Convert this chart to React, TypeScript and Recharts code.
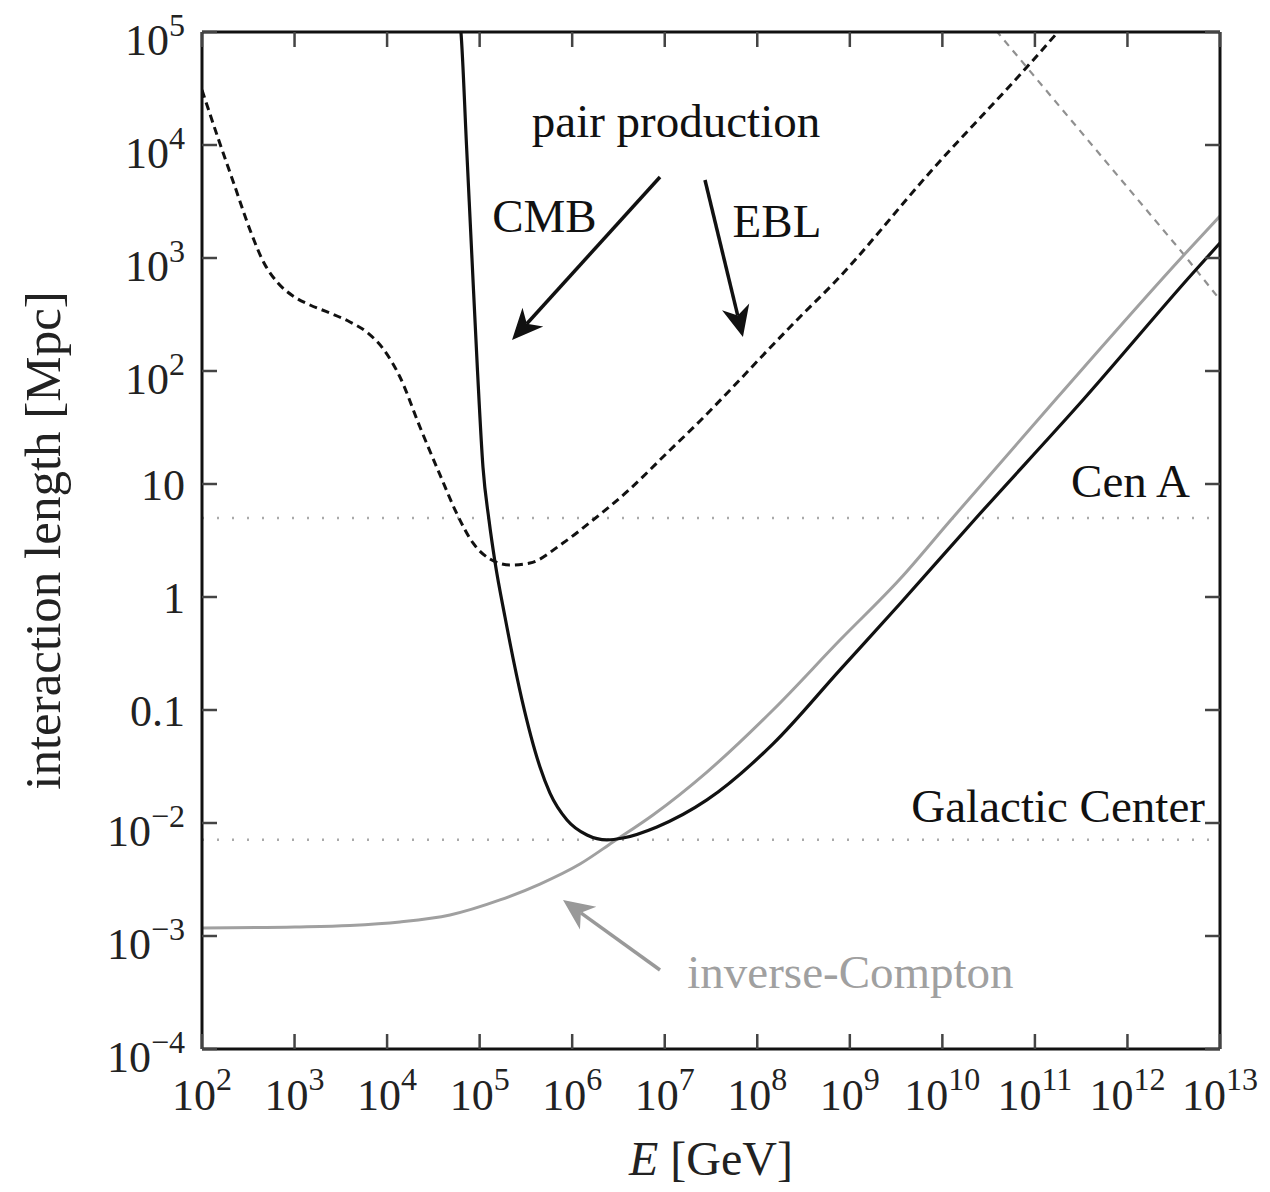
import { ComposedChart, Line, XAxis, YAxis, ReferenceLine, ReferenceDot, Label } from 'recharts';

const FONT = '"Liberation Serif", "Times New Roman", serif';

// all values as [log10(E / GeV), log10(L / Mpc)]
const cmbLog: [number, number][] = [
  [4.738, 5.3], [4.798, 5.0], [4.858, 4.0], [4.917, 3.0], [4.977, 2.0], [5.036, 1.15],
  [5.101, 0.681], [5.166, 0.31], [5.274, -0.177], [5.458, -0.912], [5.652, -1.504],
  [5.76, -1.735], [5.944, -1.973], [6.16, -2.106], [6.376, -2.15], [6.549, -2.133],
  [6.916, -2.035], [7.456, -1.796], [8.17, -1.3], [8.894, -0.645], [9.542, -0.06],
  [10.374, 0.708], [11.519, 1.743], [12.708, 2.867], [13.0, 3.133],
];

const eblLog: [number, number][] = [
  [2.0, 4.487], [2.173, 4.062], [2.346, 3.655], [2.519, 3.248], [2.67, 2.956], [2.821, 2.779],
  [2.983, 2.664], [3.167, 2.584], [3.383, 2.513], [3.599, 2.434], [3.794, 2.336], [3.967, 2.186],
  [4.139, 1.947], [4.355, 1.504], [4.572, 1.08], [4.755, 0.735], [4.928, 0.478], [5.112, 0.336],
  [5.328, 0.283], [5.544, 0.301], [5.901, 0.478], [6.225, 0.681], [6.625, 0.956], [7.024, 1.274],
  [7.381, 1.558], [7.737, 1.858], [8.105, 2.177], [8.461, 2.478], [8.818, 2.77], [9.898, 3.788],
  [10.914, 4.69], [11.249, 5.0], [11.595, 5.319],
];

const icLog: [number, number][] = [
  [2.0, -2.929], [3.005, -2.92], [3.599, -2.907], [4.139, -2.876], [4.68, -2.814], [5.22, -2.681],
  [5.652, -2.54], [6.084, -2.363], [6.441, -2.168], [6.873, -1.929], [7.456, -1.549], [8.17, -1.0],
  [8.894, -0.381], [9.542, 0.159], [10.082, 0.673], [11.238, 1.761], [12.6, 3.018], [13.0, 3.372],
];

// grey dashed line falling in the upper right corner (unlabelled in the figure)
const greyDashLog: [number, number][] = [
  [10.4, 5.19], [10.91, 4.69], [12.6, 3.04], [13.0, 2.63],
];

const cenA = 5;
const galacticCenter = 0.0071;

const xTickExp = [2, 3, 4, 5, 6, 7, 8, 9, 10, 11, 12, 13];
const yTickVals = [1e-4, 1e-3, 1e-2, 0.1, 1, 10, 1e2, 1e3, 1e4, 1e5];
const yTickText: [string, string][] = [
  ['10', '−4'], ['10', '−3'], ['10', '−2'], ['0.1', ''], ['1', ''], ['10', ''],
  ['10', '2'], ['10', '3'], ['10', '4'], ['10', '5'],
];

const toPts = (arr: [number, number][]) => arr.map(([e, l]) => ({ E: 10 ** e, L: 10 ** l }));

const TICK = '#444';

function XTick({ x, y, payload }: any) {
  const exp = Math.round(Math.log10(payload.value));
  return (
    <g>
      <line x1={x} y1={y} x2={x} y2={y - 15} stroke={TICK} strokeWidth={2.5} />
      <text x={x} y={y + 61} textAnchor="middle" fontFamily={FONT} fontSize={44} fill="#222">
        <tspan>10</tspan>
        <tspan dy={-20} fontSize={32}>{exp}</tspan>
      </text>
    </g>
  );
}

function YTick({ x, y, payload }: any) {
  const i = yTickVals.findIndex((v) => Math.abs(Math.log10(v) - Math.log10(payload.value)) < 1e-6);
  const [base, sup] = yTickText[i] ?? ['', ''];
  return (
    <g>
      <line x1={x} y1={y} x2={x + 15} y2={y} stroke={TICK} strokeWidth={2.5} />
      <text x={x - 17} y={y + (sup ? 23 : 16)} textAnchor="end" fontFamily={FONT} fontSize={44} fill="#222">
        <tspan>{base}</tspan>
        {sup && <tspan dy={-19} fontSize={32}>{sup}</tspan>}
      </text>
    </g>
  );
}

function TopTick({ x, y }: any) {
  return <line x1={x} y1={y} x2={x} y2={y + 15} stroke={TICK} strokeWidth={2.5} />;
}

function RightTick({ x, y }: any) {
  return <line x1={x} y1={y} x2={x - 15} y2={y} stroke={TICK} strokeWidth={2.5} />;
}

function Arrow(props: any) {
  const { x1, y1, x2, y2, stroke } = props;
  const a = Math.atan2(y2 - y1, x2 - x1);
  const ux = Math.cos(a), uy = Math.sin(a);
  const nx = -uy, ny = ux;
  const len = 31, half = 14, notch = 9;
  const bx = x2 - len * ux, by = y2 - len * uy;
  const mx = x2 - (len - notch) * ux, my = y2 - (len - notch) * uy;
  const pts = [
    [x2, y2], [bx + half * nx, by + half * ny], [mx, my], [bx - half * nx, by - half * ny],
  ].map((p) => p.join(',')).join(' ');
  return (
    <g>
      <line x1={x1} y1={y1} x2={mx} y2={my} stroke={stroke} strokeWidth={3.5} />
      <polygon points={pts} fill={stroke} />
    </g>
  );
}

const note = (text: string, anchor: 'start' | 'middle' | 'end', color = '#111') =>
  (p: any) => (
    <text x={p.cx} y={p.cy} textAnchor={anchor} fontFamily={FONT} fontSize={47} fill={color}>
      {text}
    </text>
  );

export default function App() {
  return (
    <div style={{ width: 1254, height: 1176 }}>
      <ComposedChart width={1254} height={1176} margin={{ top: 23, right: 41, bottom: 0, left: 0 }}>
        <XAxis
          dataKey="E"
          type="number"
          scale="log"
          domain={[1e2, 1e13]}
          allowDataOverflow
          ticks={xTickExp.map((e) => 10 ** e)}
          interval={0}
          height={135}
          tickSize={0}
          tickMargin={0}
          tickLine={false}
          tick={<XTick />}
          axisLine={{ stroke: '#111', strokeWidth: 3 }}
        >
          <Label
            content={({ viewBox }: any) => (
              <text
                x={viewBox.x + viewBox.width / 2}
                y={viewBox.y + 126}
                textAnchor="middle"
                fontFamily={FONT}
                fontSize={48}
                fill="#222"
              >
                <tspan fontStyle="italic">E</tspan>
                <tspan> [GeV]</tspan>
              </text>
            )}
          />
        </XAxis>
        <XAxis
          xAxisId="top"
          orientation="top"
          dataKey="E"
          type="number"
          scale="log"
          domain={[1e2, 1e13]}
          allowDataOverflow
          ticks={xTickExp.map((e) => 10 ** e)}
          interval={0}
          height={1}
          tickSize={0}
          tickMargin={0}
          tickLine={false}
          tick={<TopTick />}
          axisLine={{ stroke: '#111', strokeWidth: 3 }}
        />
        <YAxis
          type="number"
          scale="log"
          domain={[1e-4, 1e5]}
          allowDataOverflow
          ticks={yTickVals}
          interval={0}
          width={194}
          tickSize={0}
          tickMargin={0}
          tickLine={false}
          tick={<YTick />}
          axisLine={{ stroke: '#111', strokeWidth: 3 }}
        >
          <Label
            content={({ viewBox }: any) => (
              <text
                transform={`translate(${viewBox.x + 52}, ${viewBox.y + viewBox.height / 2}) rotate(-90)`}
                textAnchor="middle"
                fontFamily={FONT}
                fontSize={51}
                fill="#222"
              >
                interaction length [Mpc]
              </text>
            )}
          />
        </YAxis>
        <YAxis
          yAxisId="right"
          orientation="right"
          type="number"
          scale="log"
          domain={[1e-4, 1e5]}
          allowDataOverflow
          ticks={yTickVals}
          interval={0}
          width={1}
          tickSize={0}
          tickMargin={0}
          tickLine={false}
          tick={<RightTick />}
          axisLine={{ stroke: '#111', strokeWidth: 3 }}
        />

        <ReferenceLine y={cenA} stroke="#aaa" strokeWidth={2.5} strokeDasharray="2 13" />
        <ReferenceLine y={galacticCenter} stroke="#aaa" strokeWidth={2.5} strokeDasharray="2 13" />

        <Line data={toPts(greyDashLog)} dataKey="L" type="linear" stroke="#909090" strokeWidth={2.2}
          strokeDasharray="7 6" dot={false} activeDot={false} isAnimationActive={false} />
        <Line data={toPts(icLog)} dataKey="L" type="monotone" stroke="#a0a0a0" strokeWidth={3}
          dot={false} activeDot={false} isAnimationActive={false} />
        <Line data={toPts(eblLog)} dataKey="L" type="monotone" stroke="#111" strokeWidth={3}
          strokeDasharray="8 5" dot={false} activeDot={false} isAnimationActive={false} />
        <Line data={toPts(cmbLog)} dataKey="L" type="monotone" stroke="#111" strokeWidth={3.2}
          dot={false} activeDot={false} isAnimationActive={false} />

        <ReferenceLine
          segment={[{ x: 10 ** 6.949, y: 10 ** 3.717 }, { x: 10 ** 5.35, y: 10 ** 2.274 }]}
          stroke="#111"
          shape={Arrow}
        />
        <ReferenceLine
          segment={[{ x: 10 ** 7.435, y: 10 ** 3.69 }, { x: 10 ** 7.845, y: 10 ** 2.301 }]}
          stroke="#111"
          shape={Arrow}
        />
        <ReferenceLine
          segment={[{ x: 10 ** 6.949, y: 10 ** -3.301 }, { x: 10 ** 5.901, y: 10 ** -2.681 }]}
          stroke="#999"
          shape={Arrow}
        />

        <ReferenceDot x={10 ** 7.122} y={10 ** 4.071} r={0} shape={note('pair production', 'middle')} />
        <ReferenceDot x={10 ** 5.7} y={10 ** 3.23} r={0} shape={note('CMB', 'middle')} />
        <ReferenceDot x={10 ** 8.213} y={10 ** 3.186} r={0} shape={note('EBL', 'middle')} />
        <ReferenceDot x={10 ** 12.675} y={10 ** 0.885} r={0} shape={note('Cen A', 'end')} />
        <ReferenceDot x={10 ** 12.837} y={10 ** -1.991} r={0} shape={note('Galactic Center', 'end')} />
        <ReferenceDot x={10 ** 9.007} y={10 ** -3.46} r={0} shape={note('inverse-Compton', 'middle', '#a0a0a0')} />
      </ComposedChart>
    </div>
  );
}
